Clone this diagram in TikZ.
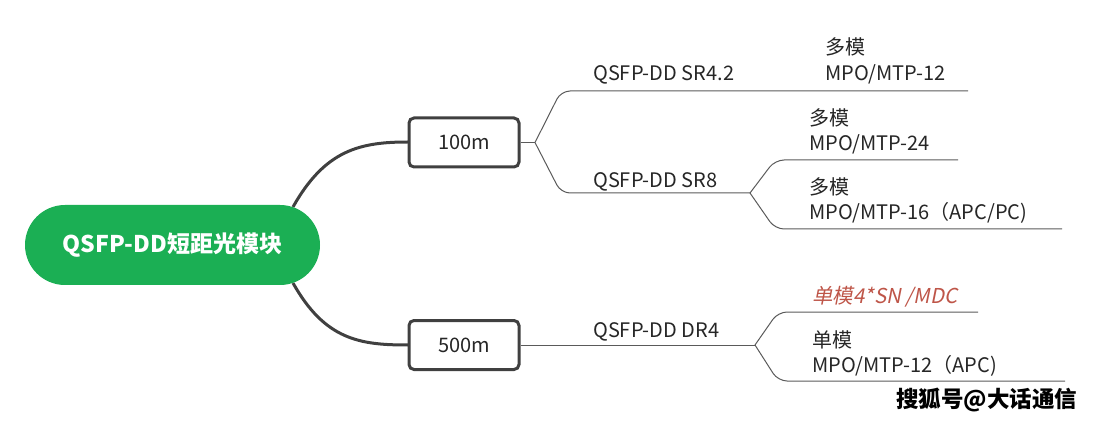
\documentclass[tikz,border=0pt]{standalone}
\usepackage{fontspec}
\usepackage{pdfrender}
\setmainfont{Noto Sans CJK SC}
\newfontfamily\slfont[FakeSlant=0.2]{Noto Sans CJK SC}
\definecolor{mygreen}{RGB}{27,175,84}
\definecolor{boxline}{RGB}{64,64,64}
\definecolor{thinline}{RGB}{90,90,90}
\definecolor{txt}{RGB}{38,38,38}
\definecolor{redtxt}{RGB}{190,85,72}
\tikzset{
  rootnode/.style={fill=mygreen, rounded corners=40pt, minimum width=295pt, minimum height=80pt, inner sep=0pt, text=white, font=\fontsize{23}{26}\selectfont\bfseries},
  levelbox/.style={draw=boxline, line width=3pt, fill=white, rounded corners=5pt, minimum width=110pt, minimum height=49pt, inner sep=0pt, text=txt, font=\fontsize{20}{24}\selectfont},
  lbl/.style={anchor=base west, inner sep=0pt, text=txt, font=\fontsize{20}{26}\selectfont, align=left},
  thick link/.style={draw=boxline, line width=3pt},
  thin link/.style={draw=thinline, line width=1pt, rounded corners=9pt},
}
\begin{document}
\begin{tikzpicture}[x=1pt,y=-1pt]
\useasboundingbox (0,0) rectangle (1101,422);
% root and level boxes
\coordinate (c1) at (293,207);
\coordinate (c2) at (293,283);
\draw[thick link] (c1) .. controls (325,150) and (360,142) .. (408,142);
\draw[thick link] (c2) .. controls (325,340) and (360,345) .. (408,345);
\node[rootnode] (root) at (172.5,245) {QSFP-DD短距光模块};
\node[levelbox] (b100) at (464,142.5) {100m};
\node[levelbox] (b500) at (464,345) {500m};
% junction and end coordinates
\coordinate (j1) at (535,142.5);
\coordinate (e1) at (968,91);
\coordinate (j2) at (750,193);
\coordinate (e2) at (958,160);
\coordinate (e3) at (1062,229);
\coordinate (j3) at (755,345);
\coordinate (e4) at (978,312);
\coordinate (e5) at (1065,381);
% thin connectors
\draw[thin link] (b100.east) -- (j1);
\draw[thin link] (j1) -- (561,91) -- (e1);
\draw[thin link] (j1) -- (561,193) -- (j2);
\draw[thin link] (j2) -- (775,160) -- (e2);
\draw[thin link] (j2) -- (775,229) -- (e3);
\draw[thin link] (b500.east) -- (j3);
\draw[thin link] (j3) -- (778,312) -- (e4);
\draw[thin link] (j3) -- (778,381) -- (e5);
% labels
\node[lbl] (sr42) at (593,81) {QSFP-DD SR4.2};
\node[lbl] (sr8) at (593,188) {QSFP-DD SR8};
\node[lbl] (dr4) at (593,337) {QSFP-DD DR4};
\node[lbl] (t1) at (825,55) {多模};
\node[lbl] (t1b) at (825,81) {MPO/MTP-12};
\node[lbl] (t2) at (809,126) {多模};
\node[lbl] (t2b) at (809,151) {MPO/MTP-24};
\node[lbl] (t3) at (809,195) {多模};
\node[lbl] (t3b) at (809,220) {MPO/MTP-16（APC/PC)};
\node[lbl, text=redtxt, font=\fontsize{20.5}{26}\selectfont\slfont] (t4) at (812,303) {单模4*SN /MDC};
\node[lbl] (t5) at (812,347) {单模};
\node[lbl] (t5b) at (812,372) {MPO/MTP-12（APC)};
\node[anchor=base west, inner sep=0pt, font=\fontsize{22.5}{26}\selectfont\bfseries] (wm) at (896,407)
  {\textpdfrender{TextRenderingMode=FillStroke, LineWidth=0.5, FillColor=white, StrokeColor=black}{搜狐号@大话通信}};
\end{tikzpicture}
\end{document}
